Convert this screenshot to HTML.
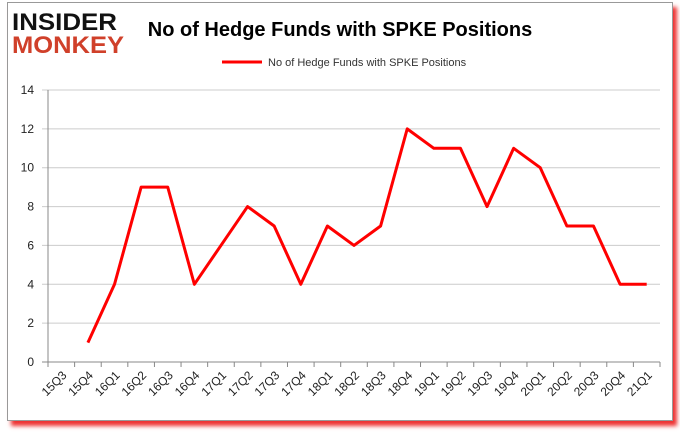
<!DOCTYPE html>
<html><head><meta charset="utf-8"><style>
body{margin:0;width:680px;height:433px;background:#fff;overflow:hidden;font-family:"Liberation Sans",sans-serif}
#card{position:absolute;left:7px;top:2px;width:664px;height:417px;border:1px solid #999;background:#fff;box-shadow:4px 5px 4px #e33}
</style></head><body>
<div id="card"></div>
<svg id="c" width="680" height="433" style="position:absolute;left:0;top:0">
<text x="12" y="30" font-size="24" font-weight="bold" fill="#111" font-family="Liberation Sans" textLength="105" lengthAdjust="spacingAndGlyphs">INSIDER</text>
<text x="12" y="53" font-size="24" font-weight="bold" fill="#d0402a" font-family="Liberation Sans" textLength="112" lengthAdjust="spacingAndGlyphs">MONKEY</text>
<text x="340" y="36" font-size="20" font-weight="bold" text-anchor="middle" fill="#000">No of Hedge Funds with SPKE Positions</text>
<line x1="222" y1="62" x2="262" y2="62" stroke="#f00" stroke-width="3"/>
<text x="268" y="66" font-size="11" fill="#333">No of Hedge Funds with SPKE Positions</text>
</svg>
<script>
const categories=["15Q3","15Q4","16Q1","16Q2","16Q3","16Q4","17Q1","17Q2","17Q3","17Q4","18Q1","18Q2","18Q3","18Q4","19Q1","19Q2","19Q3","19Q4","20Q1","20Q2","20Q3","20Q4","21Q1"];
const values=[null,1,4,9,9,4,6,8,7,4,7,6,7,12,11,11,8,11,10,7,7,4,4];
const yTicks=[0,2,4,6,8,10,12,14];
const svg=document.getElementById('c');const NS='http://www.w3.org/2000/svg';
const L=48,R=660,T=90,B=362,yMax=14;
const step=(R-L)/categories.length;
const x=i=>L+step*(i+0.5);
const y=v=>B-(B-T)*v/yMax;
function mk(t,a){const e=document.createElementNS(NS,t);for(const k in a)e.setAttribute(k,a[k]);svg.appendChild(e);return e;}
yTicks.forEach(v=>{
 const g=mk('line',{x1:L-6,x2:R,y1:y(v),y2:y(v),stroke:v===0?'#888':'#ccc','stroke-width':1});
 
 
 const t=mk('text',{x:L-14,y:y(v)+4,'font-size':12,'text-anchor':'end',fill:'#222'});t.textContent=v;
 
 
});
const ax=mk('line',{x1:L,x2:L,y1:T,y2:B,stroke:'#888'});


for(let i=0;i<=categories.length;i++){
 const tk=mk('line',{x1:L+step*i,x2:L+step*i,y1:B,y2:B+5,stroke:'#888'});
 
 
}
categories.forEach((c,i)=>{
 const t=mk('text',{x:x(i)+6,y:B+14,'font-size':12,'text-anchor':'end',fill:'#222',transform:`rotate(-45 ${x(i)+6} ${B+14})`});t.textContent=c;
 
 
});
let d='';values.forEach((v,i)=>{if(v===null)return;d+=(d?'L':'M')+x(i)+','+y(v);});
const p=mk('path',{d:d,fill:'none',stroke:'#f00','stroke-width':3,'stroke-linejoin':'round'});


</script>
</body></html>
